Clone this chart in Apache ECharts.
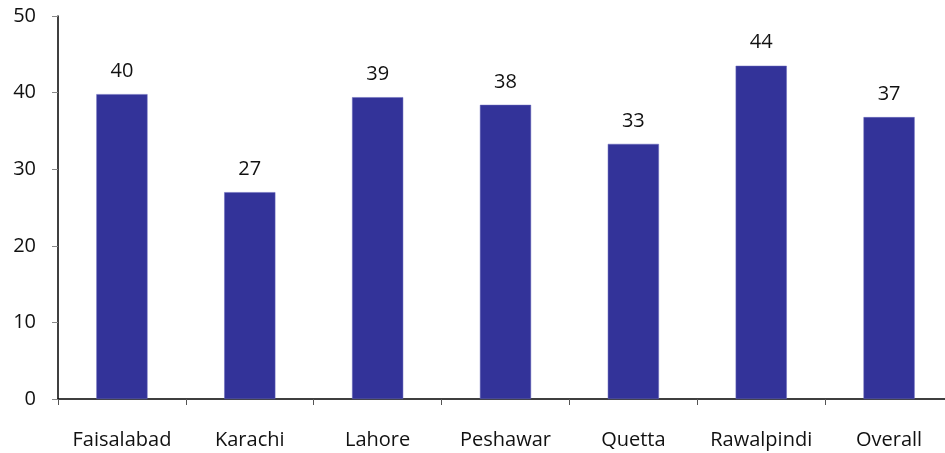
<!DOCTYPE html>
<html>
<head>
<meta charset="utf-8">
<script src="https://cdn.jsdelivr.net/npm/echarts@6/dist/echarts.min.js"></script>
<style>
html, body { margin: 0; padding: 0; background: #fff; }
#chart { width: 945px; height: 453px; }
</style>
</head>
<body>
<div id="chart"></div>
<script>
var cities = ['Faisalabad', 'Karachi', 'Lahore', 'Peshawar', 'Quetta', 'Rawalpindi', 'Overall'];
var values = [39.8, 27.0, 39.4, 38.4, 33.3, 43.5, 36.8];
var yTicks = [0, 10, 20, 30, 40, 50];

var chart = echarts.init(document.getElementById('chart'));

var option = {
    animation: false,
    grid: {
        left: 58,
        width: 895,
        top: 16,
        bottom: 54,
        outerBoundsMode: 'none'
    },
    xAxis: {
        type: 'category',
        data: cities,
        axisLine: { lineStyle: { color: '#000', width: 1.5 } },
        axisTick: { show: true, length: 6, lineStyle: { color: '#555' } },
        axisLabel: {
            interval: 0,
            color: '#111',
            fontFamily: 'Open Sans',
            fontSize: 20,
            margin: 31
        }
    },
    yAxis: {
        type: 'value',
        min: yTicks[0],
        max: yTicks[yTicks.length - 1],
        interval: 10,
        splitLine: { show: false },
        axisLine: { show: true, lineStyle: { color: '#000', width: 1.5 } },
        axisTick: { show: true, length: 6, lineStyle: { color: '#888' } },
        axisLabel: {
            color: '#111',
            fontFamily: 'Open Sans',
            fontSize: 20,
            margin: 22
        }
    },
    series: [{
        type: 'bar',
        data: values,
        barWidth: '40%',
        itemStyle: {
            color: '#333399',
            borderColor: '#6666bb',
            borderWidth: 0.5
        },
        label: {
            show: true,
            position: 'top',
            distance: 13,
            color: '#111',
            fontFamily: 'Open Sans',
            fontSize: 20,
            formatter: function (p) { return Math.round(p.value); }
        }
    }]
};

chart.setOption(option);
</script>
</body>
</html>
